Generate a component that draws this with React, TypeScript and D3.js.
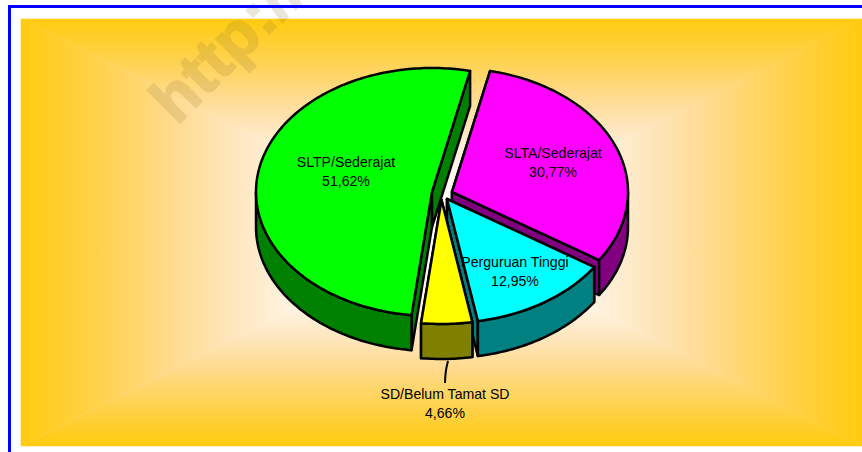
import React from 'react'
import * as d3 from 'd3'

const categories = ['SLTA/Sederajat', 'Perguruan Tinggi', 'SD/Belum Tamat SD', 'SLTP/Sederajat']
const values = [30.77, 12.95, 4.66, 51.62]
const valueLabels = ['30,77%', '12,95%', '4,66%', '51,62%']
const topColors = ['#ff00ff', '#00ffff', '#ffff00', '#00ff00']
const sideColors = ['#800080', '#008080', '#808000', '#008000']

// where each exploded slice sits on the page, and where its label goes
const centers = [[452, 192], [447, 199], [441.5, 200], [432, 192]]
const labelPos = [[553, 153], [515, 262], [445, 394], [346, 162]]
const drawOrder = [0, 3, 1, 2]

const width = 862
const height = 452
const rx = 176
const ry = 124
const depth = 35
const font = '"Liberation Sans", Arial, sans-serif'

const gold = { x0: 21, y0: 19, x1: 862, y1: 446 }
const mid = { x: 441.5, y: 232.5 }
const gradStops = [
  [0, '#ffcb0f'],
  [0.19, '#ffd24e'],
  [0.35, '#ffda8a'],
  [0.5, '#fee6bc'],
  [0.7, '#fff8f0'],
  [1, '#ffffff'],
]

const deg = Math.PI / 180
const pie = d3.pie<number>().sort(null).startAngle(12.5 * deg).endAngle((360 + 12.5) * deg)
const arcs = pie(values)

const line = d3.line()
const pt = (c: number[], a: number, dy = 0): [number, number] => [
  c[0] + rx * Math.sin(a),
  c[1] - ry * Math.cos(a) + dy,
]
const arcPts = (c: number[], a0: number, a1: number, dy = 0) => {
  const n = Math.max(2, Math.ceil(Math.abs(a1 - a0) / deg))
  return d3.range(n + 1).map((i) => pt(c, a0 + ((a1 - a0) * i) / n, dy))
}

function Slice({ i }: { i: number }) {
  const c = centers[i]
  const a0 = arcs[i].startAngle
  const a1 = arcs[i].endAngle
  const apex: [number, number] = [c[0], c[1]]
  const apexLow: [number, number] = [c[0], c[1] + depth]

  const top = line([apex, ...arcPts(c, a0, a1)]) + 'Z'
  // edge walls, the part hidden under the top just gets painted over
  const edgeA = line([apex, pt(c, a0), pt(c, a0, depth), apexLow]) + 'Z'
  const edgeB = line([apex, pt(c, a1), pt(c, a1, depth), apexLow]) + 'Z'
  // outer wall only on the front half of the ellipse
  const f0 = Math.max(a0, 90 * deg)
  const f1 = Math.min(a1, 270 * deg)
  const wall =
    f1 > f0
      ? line([...arcPts(c, f0, f1), ...arcPts(c, f1, f0, depth)]) + 'Z'
      : null

  return (
    <g stroke="#000" strokeWidth={2.5} strokeLinejoin="round">
      <path d={edgeA} fill={sideColors[i]} />
      <path d={edgeB} fill={sideColors[i]} />
      {wall && <path d={wall} fill={sideColors[i]} />}
      <path d={top} fill={topColors[i]} />
    </g>
  )
}

// the background is a box gradient: four triangles meeting in the middle
function Background() {
  const { x0, y0, x1, y1 } = gold
  const sides = [
    { id: 'gl', pts: [[x0, y0], [mid.x, mid.y], [x0, y1]], from: [x0, 0], to: [mid.x, 0] },
    { id: 'gr', pts: [[x1, y0], [mid.x, mid.y], [x1, y1]], from: [x1, 0], to: [mid.x, 0] },
    { id: 'gt', pts: [[x0, y0], [mid.x, mid.y], [x1, y0]], from: [0, y0], to: [0, mid.y] },
    { id: 'gb', pts: [[x0, y1], [mid.x, mid.y], [x1, y1]], from: [0, y1], to: [0, mid.y] },
  ]
  return (
    <g>
      <defs>
        {sides.map((s) => (
          <linearGradient
            key={s.id}
            id={s.id}
            gradientUnits="userSpaceOnUse"
            x1={s.from[0]}
            y1={s.from[1]}
            x2={s.to[0]}
            y2={s.to[1]}
          >
            {gradStops.map((d) => (
              <stop key={d[0]} offset={d[0]} stopColor={d[1] as string} />
            ))}
          </linearGradient>
        ))}
      </defs>
      {sides.map((s) => (
        <path
          key={s.id}
          d={line(s.pts as [number, number][]) + 'Z'}
          fill={`url(#${s.id})`}
          stroke={`url(#${s.id})`}
          strokeWidth={0.5}
        />
      ))}
    </g>
  )
}

const leader = d3.line().curve(d3.curveBasis)([[448, 361], [445.5, 371], [445, 383]])

export default function App() {
  return (
    <svg
      width={width}
      height={height}
      style={{ position: 'absolute', left: 0, top: 0, background: '#fff' }}
    >
      <Background />
      <text
        transform="translate(177,126) rotate(-45)"
        fontFamily={font}
        fontWeight="bold"
        fontSize={64}
        fill="#8a7030"
        stroke="#8a7030"
        strokeWidth={2}
        opacity={0.17}
        style={{ letterSpacing: 1 }}
      >
        http://
      </text>
      <path d={`M9.5,452V6.5H862`} fill="none" stroke="#0000ff" strokeWidth={3} />
      {drawOrder.map((i) => (
        <Slice key={i} i={i} />
      ))}
      <path d={leader as string} fill="none" stroke="#000" strokeWidth={2} />
      <g fontFamily={font} fontSize={14.1} textAnchor="middle" fill="#000">
        {categories.map((name, i) => (
          <text key={name} x={labelPos[i][0]} y={labelPos[i][1]}>
            <tspan x={labelPos[i][0]} dy="0.35em">{name}</tspan>
            <tspan x={labelPos[i][0]} dy={18.7}>{valueLabels[i]}</tspan>
          </text>
        ))}
      </g>
    </svg>
  )
}
